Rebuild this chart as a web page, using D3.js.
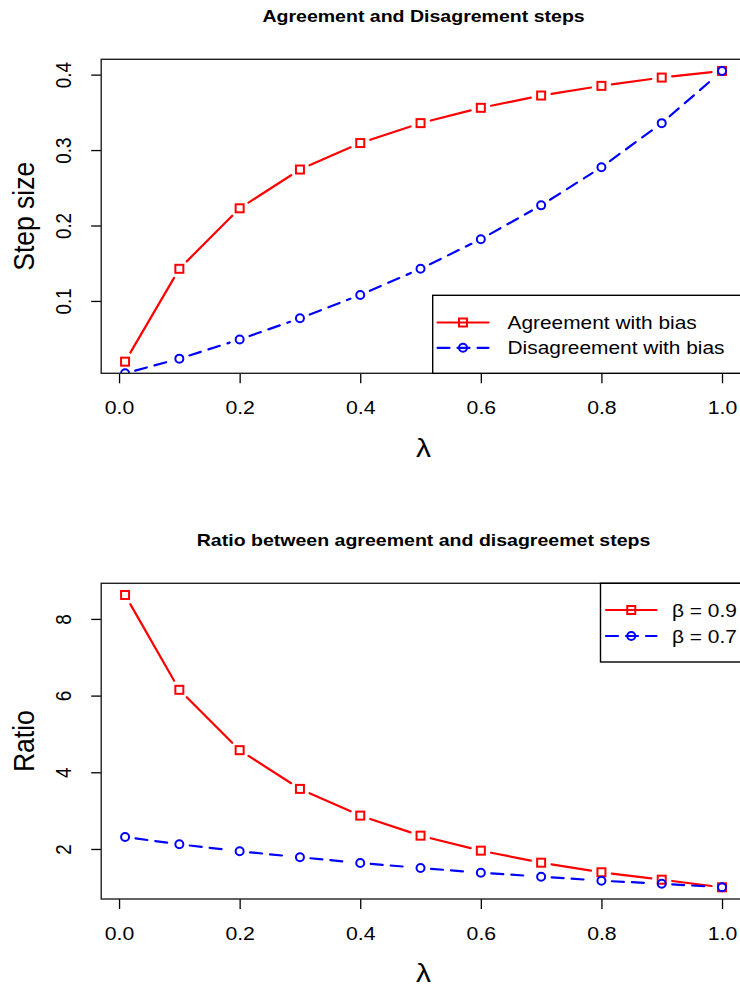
<!DOCTYPE html>
<html><head><meta charset="utf-8">
<script src="https://cdn.jsdelivr.net/npm/d3@7"></script>
<style>
html,body{margin:0;padding:0;background:#fff;}
svg{display:block;}
</style>
</head><body>
<svg id="chart" width="740" height="988"></svg>
<script>
// ---- data ----
const lambda = [0.01, 0.1, 0.2, 0.3, 0.4, 0.5, 0.6, 0.7, 0.8, 0.9, 1.0];
const agreementWithBias = [0.0195, 0.1426, 0.2228, 0.2742, 0.3093, 0.3357, 0.3560, 0.3723, 0.3851, 0.3961, 0.4049];
const disagreementWithBias = [0.004, 0.0235, 0.0489, 0.0770, 0.1079, 0.1426, 0.1818, 0.2267, 0.2772, 0.3357, 0.4049];
const ratioBeta09 = [8.624, 6.151, 4.577, 3.567, 2.870, 2.347, 1.956, 1.642, 1.392, 1.199, 1.0];
const ratioBeta07 = [2.313, 2.122, 1.940, 1.783, 1.634, 1.504, 1.381, 1.277, 1.172, 1.094, 1.0];
const xTicks = [0, 0.2, 0.4, 0.6, 0.8, 1.0];
const yTicksTop = [0.1, 0.2, 0.3, 0.4];
const yTicksBottom = [2, 4, 6, 8];
const legendTop = ["Agreement with bias", "Disagreement with bias"];
const legendBottom = ["\u03b2 = 0.9", "\u03b2 = 0.7"];
const titles = ["Agreement and Disagrement steps", "Ratio between agreement and disagreemet steps"];
const yLabels = ["Step size", "Ratio"];
const xLabel = "\u03bb";

// ---- layout ----
const FONT = "'Liberation Sans', Arial, Helvetica, sans-serif";
const SX = 1.13;          // horizontal stretch of the reference text
const left = 101.2, right = 745.9;
const RED = "#FF0000", BLUE = "#0000FF";
const svg = d3.select("#chart");
const defs = svg.append("defs");

function padRange(ext) {
  const r = ext[1] - ext[0];
  return [ext[0] - 0.04 * r, ext[1] + 0.04 * r];
}

function panel(o) {
  const x = d3.scaleLinear().domain(padRange(d3.extent(lambda))).range([left, right]);
  const y = d3.scaleLinear().domain(padRange(d3.extent(o.yBasis))).range([o.bottom, o.top]);
  const g = svg.append("g");

  defs.append("clipPath").attr("id", o.id)
    .append("rect").attr("x", left).attr("y", o.top)
    .attr("width", right - left).attr("height", o.bottom - o.top);

  // x axis
  const gx = g.append("g").attr("transform", `translate(0,${o.bottom})`)
    .call(d3.axisBottom(x).tickValues(xTicks).tickFormat(d3.format(".1f")).tickSize(10).tickSizeOuter(0));
  gx.attr("font-family", null).attr("font-size", null);
  gx.select(".domain").remove();
  gx.selectAll(".tick line").attr("stroke", "#000").attr("stroke-width", 1.3);
  gx.selectAll(".tick text")
    .attr("y", 0).attr("dy", null)
    .attr("transform", `translate(0,40.7) scale(${SX},1)`)
    .attr("font-family", FONT).attr("font-size", 18.8).attr("fill", "#000");

  // y axis
  const gy = g.append("g").attr("transform", `translate(${left},0)`)
    .call(d3.axisLeft(y).tickValues(o.yTicks).tickFormat(o.fmt).tickSize(10).tickSizeOuter(0));
  gy.attr("font-family", null).attr("font-size", null);
  gy.select(".domain").remove();
  gy.selectAll(".tick line").attr("stroke", "#000").attr("stroke-width", 1.3);
  gy.selectAll(".tick text")
    .attr("x", 0).attr("dy", null).attr("text-anchor", "middle")
    .attr("transform", `translate(${71 - left},0) scale(${SX},1) rotate(-90)`)
    .attr("font-family", FONT).attr("font-size", 18.8).attr("fill", "#000");

  // series
  const plot = g.append("g").attr("clip-path", `url(#${o.id})`);
  const GAP = 10.5;
  o.series.forEach(s => {
    const pts = lambda.map((l, i) => [x(l), y(s.values[i])]);
    const segs = [];
    for (let i = 0; i < pts.length - 1; i++) {
      const [x1, y1] = pts[i], [x2, y2] = pts[i + 1];
      const dx = x2 - x1, dy = y2 - y1, len = Math.hypot(dx, dy);
      if (len > 2 * GAP) {
        const ux = dx / len, uy = dy / len;
        segs.push([x1 + ux * GAP, y1 + uy * GAP, x2 - ux * GAP, y2 - uy * GAP]);
      }
    }
    plot.selectAll(null).data(segs).enter().append("line")
      .attr("x1", d => d[0]).attr("y1", d => d[1]).attr("x2", d => d[2]).attr("y2", d => d[3])
      .attr("stroke", s.color).attr("stroke-width", 2.2).attr("stroke-linecap", "round")
      .attr("stroke-dasharray", s.dash ? "12,8" : null);
    drawSymbols(plot, pts, s);
  });

  // box
  g.append("rect").attr("x", left).attr("y", o.top)
    .attr("width", right - left).attr("height", o.bottom - o.top)
    .attr("fill", "none").attr("stroke", "#222").attr("stroke-width", 1.4);

  // title
  g.append("text").attr("transform", `translate(${(left + right) / 2},${o.top - 37.6}) scale(${SX},1)`)
    .attr("text-anchor", "middle").attr("font-family", FONT).attr("font-weight", "bold")
    .attr("font-size", 17.3).attr("fill", "#000").text(o.title);

  // axis labels
  g.append("text").attr("transform", `translate(${(left + right) / 2},${o.bottom + 83.4}) scale(${SX},1)`)
    .attr("text-anchor", "middle").attr("font-family", FONT)
    .attr("font-size", 26.5).attr("fill", "#000").text(xLabel);
  g.append("text").attr("transform", `translate(33.5,${(o.top + o.bottom) / 2}) scale(${SX},1) rotate(-90)`)
    .attr("text-anchor", "middle").attr("font-family", FONT)
    .attr("font-size", 26.5).attr("fill", "#000").text(o.ylab);

  // legend
  const L = o.legend;
  const lg = g.append("g");
  lg.append("rect").attr("x", L.x0).attr("y", L.y0).attr("width", right - L.x0).attr("height", L.y1 - L.y0)
    .attr("fill", "#fff").attr("stroke", "#000").attr("stroke-width", 1.4);
  o.series.forEach((s, i) => {
    const yy = L.rows[i];
    lg.append("line").attr("x1", L.lx0).attr("x2", L.lx1).attr("y1", yy).attr("y2", yy)
      .attr("stroke", s.color).attr("stroke-width", 2.2).attr("stroke-linecap", "round")
      .attr("stroke-dasharray", s.dash ? "12,8" : null);
    drawSymbols(lg, [[(L.lx0 + L.lx1) / 2, yy]], s);
    lg.append("text").attr("transform", `translate(${L.tx},${yy}) scale(${SX},1)`)
      .attr("dy", "0.36em").attr("font-family", FONT).attr("font-size", 18.5)
      .attr("fill", "#000").text(L.labels[i]);
  });
}

function drawSymbols(sel, pts, s) {
  if (s.symbol === "square") {
    sel.selectAll(null).data(pts).enter().append("rect")
      .attr("x", d => d[0] - 4).attr("y", d => d[1] - 4).attr("width", 8).attr("height", 8)
      .attr("fill", "none").attr("stroke", s.color).attr("stroke-width", 2);
  } else {
    sel.selectAll(null).data(pts).enter().append("circle")
      .attr("cx", d => d[0]).attr("cy", d => d[1]).attr("r", 4)
      .attr("fill", "none").attr("stroke", s.color).attr("stroke-width", 2);
  }
}

panel({
  id: "clipTop", top: 59.3, bottom: 373.3,
  yBasis: agreementWithBias,
  yTicks: yTicksTop, fmt: d3.format(".1f"),
  title: titles[0], ylab: yLabels[0],
  series: [
    { values: agreementWithBias, color: RED, dash: false, symbol: "square" },
    { values: disagreementWithBias, color: BLUE, dash: true, symbol: "circle" }
  ],
  legend: { x0: 432.7, y0: 295.3, y1: 373.3, lx0: 437.5, lx1: 488.5, tx: 507.5, rows: [322.5, 347.8], labels: legendTop }
});

panel({
  id: "clipBottom", top: 583.3, bottom: 899,
  yBasis: ratioBeta09.concat(ratioBeta07),
  yTicks: yTicksBottom, fmt: d3.format("d"),
  title: titles[1], ylab: yLabels[1],
  series: [
    { values: ratioBeta09, color: RED, dash: false, symbol: "square" },
    { values: ratioBeta07, color: BLUE, dash: true, symbol: "circle" }
  ],
  legend: { x0: 600.5, y0: 583.3, y1: 662, lx0: 606, lx1: 656.5, tx: 672, rows: [610, 636], labels: legendBottom }
});
</script>
</body></html>
